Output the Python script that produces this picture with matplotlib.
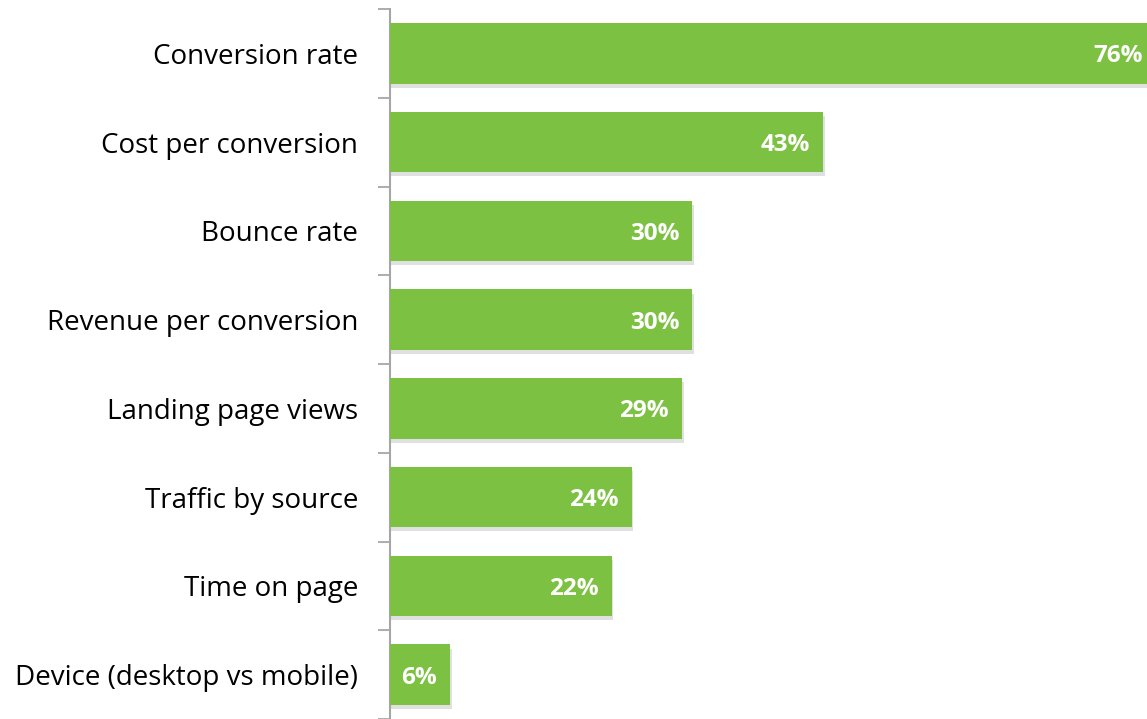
import matplotlib.pyplot as plt
import matplotlib.patheffects as pe
import numpy as np

categories = ['Conversion rate', 'Cost per conversion', 'Bounce rate',
              'Revenue per conversion', 'Landing page views', 'Traffic by source',
              'Time on page', 'Device (desktop vs mobile)']
values = [76, 43, 30, 30, 29, 24, 22, 6]

plt.rcParams['font.family'] = ['Open Sans', 'DejaVu Sans']

fig = plt.figure(figsize=(11.47, 7.19), dpi=100)
ax = fig.add_axes([390 / 1147, 0, 1 - 390 / 1147, 1 - 9 / 719])

n = len(categories)
y = np.arange(n)
bars = ax.barh(y, values, height=0.68, color='#7DC142', zorder=3)
for b in bars:
    b.set_path_effects([pe.SimplePatchShadow(offset=(1, -3), shadow_rgbFace='#999999', alpha=0.3),
                        pe.Normal()])

for yi, v in zip(y, values):
    ax.annotate(f'{v}%', (v, yi), xytext=(-9.5, 0), textcoords='offset points',
                ha='right', va='center_baseline', color='white',
                fontsize=17.5, fontweight='bold', zorder=4, annotation_clip=False)

# largest bar runs slightly past the right edge, as in the original
ax.set_xlim(0, 75.1)
ax.set_ylim(n - 0.5, -0.5)
ax.set_yticks(y)
ax.set_yticklabels(categories, fontsize=20)
ax.tick_params(axis='y', length=0, pad=23)
ax.set_yticks(np.arange(-0.5, n, 1), minor=True)
ax.tick_params(axis='y', which='minor', length=9, width=1.3, color='#A6A6A6')
ax.set_xticks([])
for s in ['top', 'right', 'bottom']:
    ax.spines[s].set_visible(False)
ax.spines['left'].set_color('#A6A6A6')
ax.spines['left'].set_linewidth(1.5)

fig.savefig('out.png', dpi=100)
